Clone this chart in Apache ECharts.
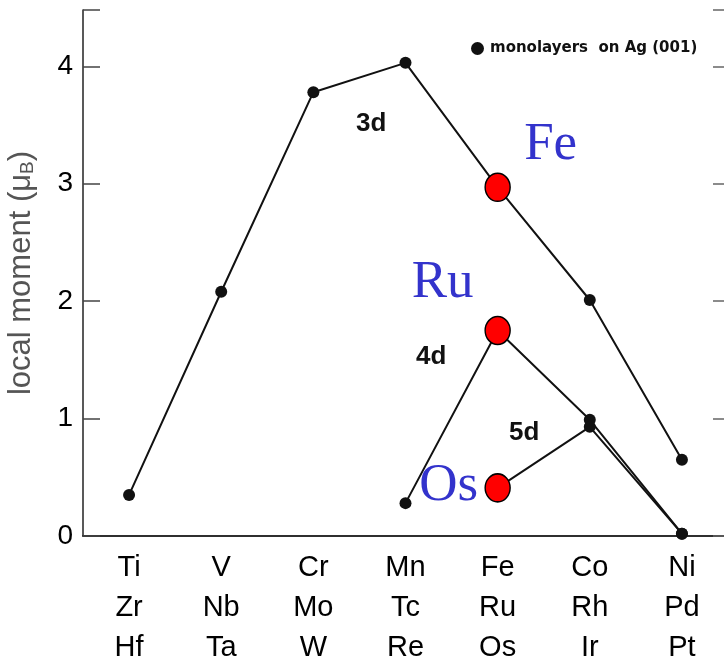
<!DOCTYPE html>
<html>
<head>
<meta charset="utf-8">
<script src="https://cdn.jsdelivr.net/npm/echarts@6/dist/echarts.min.js"></script>
<style>
  html, body { margin: 0; padding: 0; background: #fff; }
  #chart { width: 724px; height: 659px; }
</style>
</head>
<body>
<div id="chart"></div>
<script>
// Transition-metal columns, three periods per column
const row3d = ['Ti', 'V', 'Cr', 'Mn', 'Fe', 'Co', 'Ni'];
const row4d = ['Zr', 'Nb', 'Mo', 'Tc', 'Ru', 'Rh', 'Pd'];
const row5d = ['Hf', 'Ta', 'W', 'Re', 'Os', 'Ir', 'Pt'];

// Local moments (μB) of monolayers on Ag(001)
const moment3d = [0.35, 2.08, 3.78, 4.03, 2.97, 2.01, 0.65];
const moment4d = [null, null, null, 0.28, 1.75, 0.99, 0.02];
const moment5d = [null, null, null, null, 0.41, 0.93, 0.02];

// Highlighted elements of the Fe column
const highlightNames = ['Fe', 'Ru', 'Os'];
const highlightValues = [2.97, 1.75, 0.41];
const highlightColumn = 4;

const yTicks = [0, 1, 2, 3, 4];
const legendName = 'monolayers  on Ag (001)';

const categories = row3d.map((s, i) => s + '\n' + row4d[i] + '\n' + row5d[i]);

const chart = echarts.init(document.getElementById('chart'), null, { renderer: 'canvas' });

const lineStyle = { color: '#111', width: 2 };
const dotStyle = { color: '#111', opacity: 1 };
const labelOffsets = [[53, -42], [-55, -47], [-49, -2]];

const option = {
  animation: false,
  backgroundColor: '#fff',
  grid: { left: 83, top: 10, width: 645, bottom: 123, containLabel: false, outerBoundsMode: 'none' },
  legend: {
    data: [{ name: legendName, icon: 'circle' }],
    left: 466, top: 36,
    itemWidth: 13, itemHeight: 13,
    textStyle: { fontFamily: 'DejaVu Sans', fontWeight: 'bold', fontSize: 15, color: '#111', padding: [0, 0, 0, 1] }
  },
  xAxis: [
    {
      type: 'category', data: categories, position: 'bottom',
      axisLine: { lineStyle: { color: '#222', width: 1.5 } },
      axisTick: { inside: true, length: 11, lineStyle: { color: '#444', width: 1.5 } },
      axisLabel: {
        margin: 12, fontFamily: 'Liberation Sans, Arial', fontSize: 29,
        lineHeight: 40, color: '#000'
      }
    },
    {
      type: 'category', data: categories, position: 'top',
      axisLine: { lineStyle: { color: '#222', width: 1.5 } },
      axisTick: { inside: true, length: 10, lineStyle: { color: '#444', width: 1.5 } },
      axisLabel: { show: false }
    }
  ],
  yAxis: [
    {
      type: 'value', min: 0, max: 4.48, interval: 1, position: 'left',
      name: '{t|local moment (}{t|μ}{s|B}{t|)}',
      nameLocation: 'middle', nameRotate: 90, nameGap: 46,
      nameTextStyle: {
        rich: {
          t: { fontFamily: 'Liberation Sans, Arial', fontSize: 31, color: '#555' },
          s: { fontFamily: 'Liberation Sans, Arial', fontSize: 19, color: '#555', padding: [12, 0, 0, 0] }
        }
      },
      splitLine: { show: false },
      axisLine: { show: true, lineStyle: { color: '#222', width: 1.5 } },
      axisTick: { show: true, inside: true, length: 17, lineStyle: { color: '#444', width: 1.5 } },
      axisLabel: {
        margin: 10, fontFamily: 'Liberation Sans, Arial', fontSize: 28, color: '#000',
        formatter: v => (yTicks.indexOf(v) >= 0 ? String(v) : '')
      }
    },
    {
      type: 'value', min: 0, max: 4.48, interval: 1, position: 'right',
      splitLine: { show: false },
      axisLine: { show: true, lineStyle: { color: '#222', width: 1.5 } },
      axisTick: { show: true, inside: true, length: 15, lineStyle: { color: '#666', width: 1.5 } },
      axisLabel: { show: false }
    }
  ],
  graphic: [
    { type: 'text', left: 356, top: 111, style: { text: '3d', font: 'bold 26px Liberation Sans, Arial', fill: '#111' } },
    { type: 'text', left: 416, top: 344, style: { text: '4d', font: 'bold 26px Liberation Sans, Arial', fill: '#111' } },
    { type: 'text', left: 509, top: 420, style: { text: '5d', font: 'bold 26px Liberation Sans, Arial', fill: '#111' } }
  ],
  series: [
    {
      name: legendName, type: 'line', data: moment3d,
      symbol: 'circle', symbolSize: 12, lineStyle, itemStyle: dotStyle, z: 3
    },
    {
      name: '4d', type: 'line', data: moment4d,
      symbol: 'circle', symbolSize: 12, lineStyle, itemStyle: dotStyle, z: 3
    },
    {
      name: '5d', type: 'line', data: moment5d,
      symbol: 'circle', symbolSize: 12, lineStyle, itemStyle: dotStyle, z: 3
    },
    {
      name: 'Fe column', type: 'scatter', z: 5,
      symbol: 'circle', symbolSize: [25, 28],
      itemStyle: { color: '#ff0000', borderColor: '#000', borderWidth: 1.5, opacity: 1 },
      data: highlightNames.map((n, i) => ({
        name: n,
        value: [highlightColumn, highlightValues[i]],
        label: {
          show: true, position: 'inside', offset: labelOffsets[i],
          formatter: '{b}',
          fontFamily: 'Liberation Serif, Times New Roman, serif',
          fontSize: 53, color: '#3333cc', opacity: 1
        }
      }))
    }
  ]
};

chart.setOption(option);
</script>
</body>
</html>
